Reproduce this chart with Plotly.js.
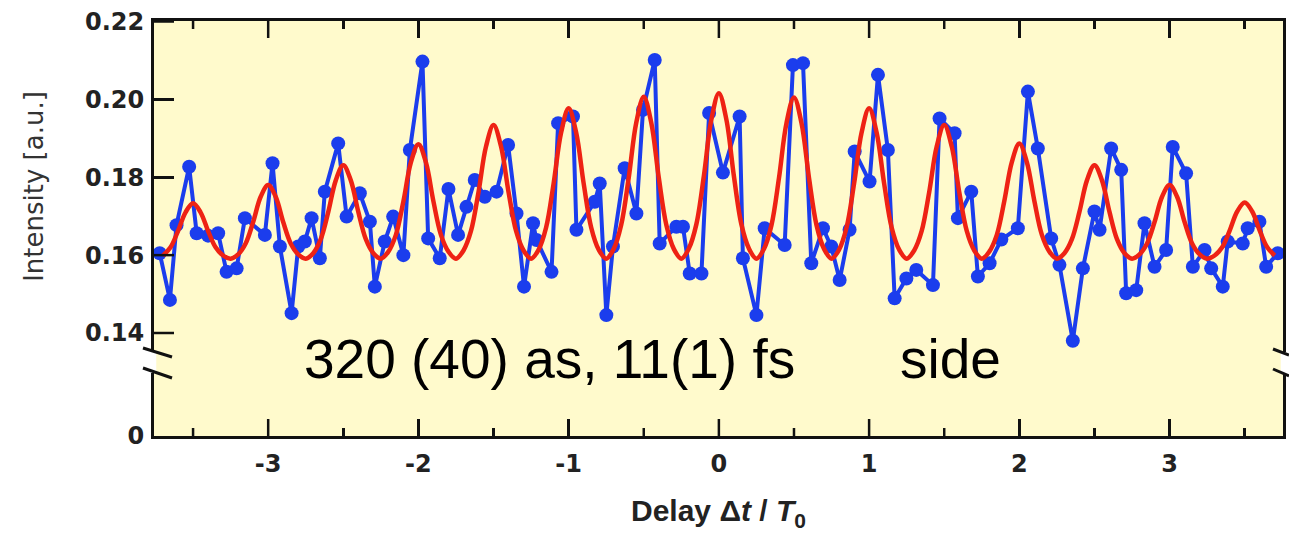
<!DOCTYPE html>
<html>
<head>
<meta charset="utf-8">
<script src="https://cdn.plot.ly/plotly-3.0.1.min.js"></script>
<style>html,body{margin:0;padding:0;background:#fff;}#chart{width:1289px;height:534px;}</style>
</head>
<body>
<div id="chart"></div>
<script>
// Measured delay (in units of T0) and intensity [a.u.]
const delayX = [-3.722,-3.654,-3.610,-3.526,-3.476,-3.400,-3.333,-3.277,-3.210,-3.155,-3.022,-2.971,-2.922,-2.844,-2.800,-2.756,-2.711,-2.656,-2.623,-2.534,-2.478,-2.390,-2.323,-2.290,-2.224,-2.168,-2.100,-2.057,-1.973,-1.935,-1.858,-1.800,-1.736,-1.680,-1.625,-1.558,-1.480,-1.403,-1.347,-1.297,-1.237,-1.214,-1.114,-1.070,-0.971,-0.948,-0.826,-0.793,-0.749,-0.705,-0.627,-0.549,-0.505,-0.427,-0.394,-0.283,-0.239,-0.194,-0.116,-0.065,0.027,0.138,0.160,0.250,0.305,0.438,0.493,0.560,0.615,0.693,0.748,0.804,0.870,0.904,1.003,1.059,1.125,1.170,1.248,1.314,1.425,1.469,1.569,1.591,1.680,1.724,1.802,1.880,1.990,2.057,2.123,2.212,2.267,2.356,2.423,2.500,2.534,2.611,2.678,2.711,2.778,2.833,2.900,2.977,3.021,3.110,3.155,3.233,3.277,3.354,3.387,3.487,3.520,3.598,3.643,3.720];
const intensity = [0.1605,0.1485,0.1677,0.1827,0.1656,0.1650,0.1656,0.1557,0.1566,0.1695,0.1652,0.1836,0.1622,0.1451,0.1622,0.1635,0.1695,0.1592,0.1763,0.1887,0.1699,0.1759,0.1686,0.1519,0.1635,0.1699,0.1600,0.1870,0.2097,0.1643,0.1592,0.1770,0.1652,0.1724,0.1793,0.1750,0.1763,0.1883,0.1707,0.1519,0.1682,0.1639,0.1557,0.1939,0.1956,0.1665,0.1737,0.1784,0.1446,0.1622,0.1823,0.1707,0.1973,0.2101,0.1630,0.1673,0.1673,0.1553,0.1553,0.1965,0.1812,0.1956,0.1592,0.1446,0.1669,0.1626,0.2088,0.2093,0.1579,0.1669,0.1622,0.1536,0.1665,0.1866,0.1789,0.2063,0.1870,0.1489,0.1540,0.1562,0.1523,0.1951,0.1913,0.1695,0.1763,0.1545,0.1579,0.1640,0.1669,0.2020,0.1874,0.1643,0.1575,0.1380,0.1566,0.1712,0.1665,0.1874,0.1819,0.1502,0.1510,0.1682,0.1570,0.1613,0.1878,0.1810,0.1570,0.1613,0.1566,0.1519,0.1635,0.1630,0.1669,0.1686,0.1570,0.1605];

// Fit curve
const fitX = [-3.70,-3.65,-3.60,-3.55,-3.50,-3.45,-3.40,-3.35,-3.30,-3.25,-3.20,-3.15,-3.10,-3.05,-3.00,-2.95,-2.90,-2.85,-2.80,-2.75,-2.70,-2.65,-2.60,-2.55,-2.50,-2.45,-2.40,-2.35,-2.30,-2.25,-2.20,-2.15,-2.10,-2.05,-2.00,-1.95,-1.90,-1.85,-1.80,-1.75,-1.70,-1.65,-1.60,-1.55,-1.50,-1.45,-1.40,-1.35,-1.30,-1.25,-1.20,-1.15,-1.10,-1.05,-1.00,-0.95,-0.90,-0.85,-0.80,-0.75,-0.70,-0.65,-0.60,-0.55,-0.50,-0.45,-0.40,-0.35,-0.30,-0.25,-0.20,-0.15,-0.10,-0.05,0.00,0.05,0.10,0.15,0.20,0.25,0.30,0.35,0.40,0.45,0.50,0.55,0.60,0.65,0.70,0.75,0.80,0.85,0.90,0.95,1.00,1.05,1.10,1.15,1.20,1.25,1.30,1.35,1.40,1.45,1.50,1.55,1.60,1.65,1.70,1.75,1.80,1.85,1.90,1.95,2.00,2.05,2.10,2.15,2.20,2.25,2.30,2.35,2.40,2.45,2.50,2.55,2.60,2.65,2.70,2.75,2.80,2.85,2.90,2.95,3.00,3.05,3.10,3.15,3.20,3.25,3.30,3.35,3.40,3.45,3.50,3.55,3.60,3.65,3.70];
const fitY = [0.1599,0.1620,0.1662,0.1710,0.1733,0.1710,0.1662,0.1620,0.1599,0.1591,0.1602,0.1630,0.1685,0.1750,0.1780,0.1750,0.1685,0.1630,0.1602,0.1591,0.1605,0.1641,0.1711,0.1792,0.1831,0.1792,0.1711,0.1641,0.1605,0.1591,0.1609,0.1652,0.1738,0.1838,0.1885,0.1838,0.1738,0.1652,0.1609,0.1591,0.1612,0.1662,0.1762,0.1879,0.1934,0.1879,0.1762,0.1662,0.1612,0.1591,0.1614,0.1671,0.1784,0.1915,0.1977,0.1915,0.1784,0.1671,0.1614,0.1591,0.1616,0.1678,0.1799,0.1940,0.2007,0.1940,0.1799,0.1678,0.1616,0.1591,0.1617,0.1679,0.1803,0.1948,0.2016,0.1948,0.1803,0.1679,0.1617,0.1591,0.1616,0.1677,0.1798,0.1939,0.2005,0.1939,0.1798,0.1677,0.1616,0.1591,0.1614,0.1671,0.1784,0.1915,0.1977,0.1915,0.1784,0.1671,0.1614,0.1591,0.1612,0.1662,0.1762,0.1879,0.1934,0.1879,0.1762,0.1662,0.1612,0.1591,0.1609,0.1652,0.1739,0.1839,0.1887,0.1839,0.1739,0.1652,0.1609,0.1591,0.1605,0.1641,0.1711,0.1792,0.1831,0.1792,0.1711,0.1641,0.1605,0.1591,0.1602,0.1630,0.1685,0.1750,0.1780,0.1750,0.1685,0.1630,0.1602,0.1591,0.1599,0.1620,0.1663,0.1712,0.1735,0.1712,0.1663,0.1620,0.1599];

const xTickVals = [-3,-2,-1,0,1,2,3];
const xTickText = ['-3','-2','-1','0','1','2','3'];
const xMinorVals = [-3.5,-2.5,-1.5,-0.5,0.5,1.5,2.5,3.5];
const xRange = [-3.76,3.755];
const yTickVals = [0.14,0.16,0.18,0.20,0.22];
const yTickText = ['0.14','0.16','0.18','0.20','0.22'];
const yLowTickVals = [0];
const yLowTickText = ['0'];

const BG = '#fffacc';
const AX = '#111111';
const tickFont = {family:'DejaVu Sans', size:24, color:'#222', weight:'bold'};

const traces = [
  // empty traces only to register the lower (broken-axis) panel and the top frame axis
  {x: [], y: [], type:'scatter', mode:'markers', xaxis:'x', yaxis:'y2', showlegend:false, hoverinfo:'skip'},
  {x: [], y: [], type:'scatter', mode:'markers', xaxis:'x2', yaxis:'y', showlegend:false, hoverinfo:'skip'},
  {x: delayX, y: intensity, type:'scatter', mode:'lines+markers', xaxis:'x', yaxis:'y',
   line:{color:'#1b3ded', width:4}, marker:{color:'#1b3ded', size:14, symbol:'circle'},
   showlegend:false, hoverinfo:'x+y'},
  {x: fitX, y: fitY, type:'scatter', mode:'lines', xaxis:'x', yaxis:'y',
   line:{color:'#ee2214', width:4.5, shape:'spline', smoothing:1},
   showlegend:false, hoverinfo:'x+y'}
];

function xAxisBase(){
  return {range:xRange.slice(), showgrid:false, zeroline:false, showline:true,
    linecolor:AX, linewidth:3, ticks:'inside', ticklen:17, tickwidth:2.5, tickcolor:AX,
    tickmode:'array', tickvals:xTickVals, ticktext:xTickText,
    minor:{tickmode:'array', tickvals:xMinorVals, ticks:'inside', ticklen:8, tickwidth:2.5, tickcolor:AX, showgrid:false}};
}

const W = 1283-154, H = 415;
function px2x(p){return (p-154)/W;}
function py2y(p){return (436-p)/H;}

// frame ticks (bottom and top of the x axis, left of the y axis), placed through the axes' own scales
const tickShapes = [];
const MAJ = 17/H, MIN = 8/H, YT = 20/W;
xTickVals.forEach(function(v){
  tickShapes.push({type:'line', xref:'x', yref:'paper', x0:v, x1:v, y0:0, y1:MAJ, line:{color:AX, width:2.5}, layer:'above'});
  tickShapes.push({type:'line', xref:'x', yref:'paper', x0:v, x1:v, y0:1, y1:1-MAJ, line:{color:AX, width:2.5}, layer:'above'});
});
xMinorVals.forEach(function(v){
  tickShapes.push({type:'line', xref:'x', yref:'paper', x0:v, x1:v, y0:0, y1:MIN, line:{color:AX, width:2.5}, layer:'above'});
  tickShapes.push({type:'line', xref:'x', yref:'paper', x0:v, x1:v, y0:1, y1:1-MIN, line:{color:AX, width:2.5}, layer:'above'});
});
yTickVals.forEach(function(v){
  tickShapes.push({type:'line', xref:'paper', yref:'y', x0:0, x1:YT, y0:v, y1:v, line:{color:AX, width:2.5}, layer:'above'});
});

const layout = {
  width:1289, height:534,
  margin:{l:154, r:6, t:21, b:98, pad:0},
  paper_bgcolor:'#ffffff', plot_bgcolor:BG,
  showlegend:false,
  xaxis: Object.assign(xAxisBase(), {domain:[0,1], anchor:'y2', side:'bottom',
    tickfont:tickFont, ticklabelstandoff:4,
    title:{text:'<b>Delay Δ<i>t</i> / <i>T</i><sub>0</sub></b>', font:{family:'Liberation Sans', size:30, color:'#222'}, standoff:24}}),
  xaxis2: Object.assign(xAxisBase(), {domain:[0,1], overlaying:'x', anchor:'y', side:'top', showticklabels:false}),
  yaxis: {domain:[py2y(352),1], range:[0.13512,0.22013], anchor:'x', showgrid:false, zeroline:false,
    showline:true, mirror:true, linecolor:AX, linewidth:3, ticks:'inside', ticklen:20, tickwidth:2.5, tickcolor:AX,
    tickvals:yTickVals, ticktext:yTickText, tickfont:tickFont, ticklabelstandoff:2,
    title:{text:'Intensity [a.u.]', font:{family:'DejaVu Sans', size:26, color:'#333'}, standoff:34}},
  yaxis2: {domain:[0,py2y(373)], range:[0,0.01], anchor:'x', showgrid:false, zeroline:false,
    showline:true, mirror:true, linecolor:AX, linewidth:3, ticks:'',
    tickvals:yLowTickVals, ticktext:yLowTickText, tickfont:tickFont, ticklabelstandoff:2},
  shapes:[
    {type:'rect', xref:'paper', yref:'paper', x0:0.002, x1:0.998, y0:py2y(373)-0.002, y1:py2y(352)+0.002, fillcolor:BG, line:{width:0}, layer:'below'},
    {type:'line', xref:'paper', yref:'paper', x0:px2x(143), y0:py2y(348), x1:px2x(172), y1:py2y(357), line:{color:AX, width:3}},
    {type:'line', xref:'paper', yref:'paper', x0:px2x(143), y0:py2y(368), x1:px2x(172), y1:py2y(378), line:{color:AX, width:3}},
    {type:'line', xref:'paper', yref:'paper', x0:px2x(1273), y0:py2y(349), x1:px2x(1289), y1:py2y(355), line:{color:AX, width:3}},
    {type:'line', xref:'paper', yref:'paper', x0:px2x(1273), y0:py2y(369), x1:px2x(1289), y1:py2y(376), line:{color:AX, width:3}}
  ].concat(tickShapes),
  annotations:[
    {xref:'paper', yref:'paper', x:px2x(302), y:py2y(358.8), xanchor:'left', yanchor:'middle', showarrow:false,
     text:'320 (40) as, 11(1) fs', font:{family:'Liberation Sans', size:55, color:'#000'}},
    {xref:'paper', yref:'paper', x:px2x(898), y:py2y(358.8), xanchor:'left', yanchor:'middle', showarrow:false,
     text:'side', font:{family:'Liberation Sans', size:55, color:'#000'}}
  ]
};

Plotly.newPlot('chart', traces, layout, {staticPlot:true, displayModeBar:false});
</script>
</body>
</html>
